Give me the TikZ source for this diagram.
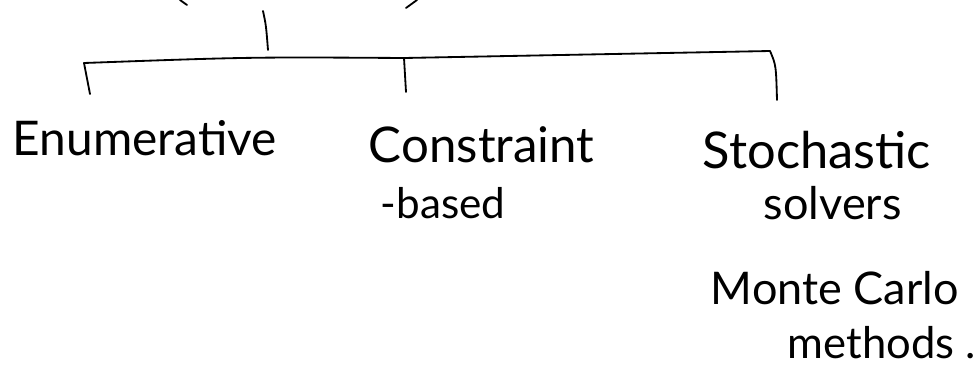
\documentclass[tikz,border=0pt]{standalone}
\usepackage{fontspec}
\setmainfont{Lato}
\begin{document}
\begin{tikzpicture}[x=0.025cm,y=-0.025cm,line width=1.3pt,line cap=round,
        hand/.style={font=\fontsize{34}{38}\selectfont,inner sep=0pt,anchor=base west},
        handsmall/.style={font=\fontsize{30}{34}\selectfont,inner sep=0pt,anchor=base west}]
    \useasboundingbox (0,0) rectangle (979,369);

    % top of the tree
    \draw (180,0) -- (187,5);
    \draw (406,8) -- (417,0);
    \coordinate (root) at (263,11);
    \coordinate (top) at (268,50);
    \draw (root) .. controls (266,25) .. (top);

    % branch bar
    \coordinate (barl) at (84,63);
    \coordinate (barm) at (404,58);
    \coordinate (barr) at (770,51);
    \draw (barl) .. controls (250,57) .. (barm) -- (barr);

    % leaves
    \node[hand] (enum) at (12,155) {Enumerative};
    \node[hand,font=\fontsize{35}{38}\selectfont] (constr) at (368,162) {Constraint};
    \node[handsmall] (based) at (380,218) {-based};
    \node[hand,font=\fontsize{36}{38}\selectfont] (stoch) at (702,168) {Stochastic};
    \node[hand,font=\fontsize{32}{38}\selectfont] (solvers) at (763,219) {solvers};
    \node[hand,font=\fontsize{32}{38}\selectfont] (monte) at (710,304) {Monte Carlo};
    \node[hand,font=\fontsize{31}{38}\selectfont] (methods) at (787,358) {methods .};

    \coordinate (tickl) at (90,94);
    \coordinate (tickm) at (406,92);
    \coordinate (tickr) at (777,100);
    \draw (barl) -- (tickl);
    \draw (barm) -- (tickm);
    \draw (barr) .. controls (776,65) .. (tickr);

\end{tikzpicture}
\end{document}
